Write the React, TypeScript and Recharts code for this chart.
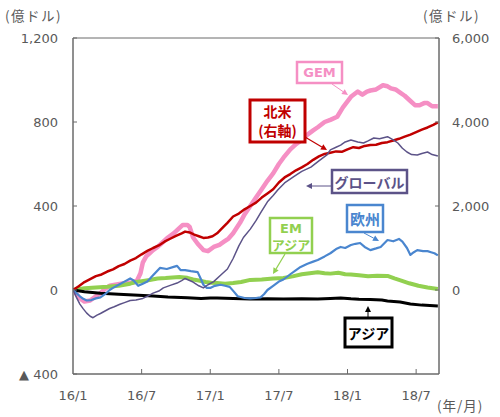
import React from 'react';
import { LineChart, Line, XAxis, YAxis, ReferenceArea } from 'recharts';

// months since 2016/1
const xTickMonths = [0, 6, 12, 18, 24, 30];
const xTickLabels = ['16/1', '16/7', '17/1', '17/7', '18/1', '18/7'];
const leftTicks = [-400, 0, 400, 800, 1200];
const rightTicks = [0, 2000, 4000, 6000];

// North America (right axis, 億ドル)
const northAmerica: number[][] = [
  [0, 0], [0.5, 90], [1, 190], [1.5, 260], [2, 330], [2.5, 370], [3, 440], [3.5, 490], [4, 570], [4.5, 620],
  [5, 700], [5.5, 760], [6, 850], [6.5, 930], [7, 1000], [7.5, 1060], [8, 1150], [8.5, 1220], [9, 1290],
  [9.5, 1350], [9.8, 1390], [10.2, 1370], [10.6, 1320], [11, 1280], [11.4, 1240], [11.8, 1250], [12.2, 1280],
  [12.6, 1350], [13, 1460], [13.5, 1600], [14, 1750], [14.5, 1820], [15, 1920], [15.5, 2000], [16, 2080],
  [16.5, 2200], [17, 2300], [17.5, 2400], [18, 2560], [18.5, 2680], [19, 2760], [19.5, 2850], [20, 2920],
  [20.5, 3000], [21, 3100], [21.5, 3180], [22, 3240], [22.5, 3270], [23, 3300], [23.5, 3290], [24, 3350],
  [24.5, 3400], [25, 3380], [25.5, 3430], [26, 3450], [26.5, 3460], [27, 3500], [27.5, 3520], [28, 3560],
  [28.5, 3600], [29, 3650], [29.5, 3700], [30, 3760], [30.5, 3820], [31, 3870], [31.5, 3930], [31.9, 3990],
];

const gem: number[][] = [
  [0, 0], [0.3, -20], [0.6, -40], [1, -55], [1.5, -50], [2, -30], [2.4, -15], [2.8, 5], [3.2, 20], [3.7, 25],
  [4.2, 30], [4.7, 35], [5.2, 35], [5.6, 45], [5.9, 80], [6.1, 130], [6.4, 160], [6.7, 175], [7, 190],
  [7.4, 205], [7.8, 225], [8.3, 250], [8.8, 270], [9.2, 290], [9.6, 310], [10, 310], [10.2, 300], [10.5, 250],
  [10.9, 220], [11.4, 190], [11.8, 185], [12.3, 205], [12.8, 215], [13.2, 230], [13.6, 245], [14, 270],
  [14.6, 320], [15, 360], [15.5, 400], [16, 440], [16.5, 480], [17, 520], [17.5, 555], [18, 600], [18.4, 630],
  [19, 670], [19.5, 695], [19.9, 710], [20.5, 740], [21, 760], [21.4, 775], [22, 800], [22.5, 810],
  [23.1, 825], [23.6, 870], [24.3, 920], [24.9, 945], [25.3, 930], [25.7, 945], [26, 950], [26.5, 955],
  [27.1, 975], [27.5, 970], [27.8, 960], [28.2, 955], [28.6, 940], [29, 925], [29.5, 900], [29.9, 880],
  [30.3, 880], [30.7, 890], [31, 890], [31.4, 875], [31.9, 875],
];

const globalFunds: number[][] = [
  [0, 0], [0.3, -35], [0.6, -67], [0.9, -90], [1.2, -110], [1.5, -125], [1.75, -132], [2.1, -120],
  [2.4, -112], [2.8, -100], [3.2, -88], [3.6, -80], [4.1, -68], [4.5, -60], [5, -50], [5.5, -48], [6.1, -40],
  [6.5, -30], [7, -15], [7.5, -5], [7.9, 10], [8.5, 22], [9.1, 33], [9.5, 45], [9.8, 55], [10.2, 45],
  [10.5, 38], [11, 20], [11.4, 10], [11.8, 25], [12.3, 40], [12.9, 70], [13.5, 100], [14, 150], [14.5, 210],
  [14.9, 250], [15.5, 290], [16, 330], [16.4, 367], [17, 420], [17.5, 450], [17.9, 476], [18.5, 510],
  [19.3, 540], [20, 565], [20.8, 585], [21.5, 615], [22.2, 643], [22.5, 667], [23, 680], [23.4, 690],
  [23.8, 705], [24.3, 714], [24.9, 705], [25.4, 700], [25.8, 710], [26.3, 724], [26.8, 720], [27.5, 730],
  [28, 715], [28.4, 700], [28.8, 675], [29.2, 657], [29.6, 645], [30.1, 643], [30.5, 650], [31, 657],
  [31.4, 645], [31.9, 638],
];

const europe: number[][] = [
  [0, 0], [0.3, -15], [0.6, -30], [0.9, -42], [1.2, -50], [1.6, -48], [2, -40], [2.4, -35], [2.8, -20],
  [3.2, 0], [3.5, 10], [4, 25], [4.5, 40], [5, 55], [5.3, 45], [5.7, 20], [6.1, 30], [6.5, 40], [7, 70],
  [7.6, 105], [8.2, 100], [8.8, 110], [9.1, 115], [9.4, 95], [9.8, 95], [10.3, 90], [10.9, 85], [11.2, 50],
  [11.4, 25], [11.7, 10], [12, 10], [12.4, 20], [12.9, 25], [13.3, 20], [13.7, 15], [14.1, -10], [14.4, -30],
  [15, -38], [15.5, -40], [16, -38], [16.4, -35], [16.7, -20], [17, 0], [17.5, 20], [18, 40], [18.4, 50],
  [19, 75], [19.5, 95], [19.9, 110], [20.5, 125], [21, 135], [21.4, 143], [22, 160], [22.5, 175], [23, 195],
  [23.4, 205], [23.8, 200], [24.3, 214], [24.7, 220], [25.1, 224], [25.5, 205], [26, 190], [26.5, 198],
  [26.9, 205], [27.5, 238], [28, 232], [28.5, 243], [28.8, 230], [29.2, 200], [29.5, 167], [29.8, 180],
  [30.1, 190], [30.6, 185], [31, 185], [31.3, 180], [31.6, 175], [31.9, 165],
];

const emAsia: number[][] = [
  [0, 0], [1, 8], [2, 12], [3, 15], [4, 20], [5, 30], [5.5, 38], [6, 42], [6.7, 48], [7.4, 55], [8.1, 57],
  [8.7, 60], [9.3, 62], [10, 58], [10.5, 50], [11, 45], [11.6, 38], [12.1, 35], [12.6, 33], [13.3, 30],
  [14, 33], [14.7, 38], [15.5, 48], [16.5, 50], [17.5, 55], [18.4, 57], [19.2, 65], [20, 75], [20.7, 80],
  [21.4, 84], [22, 80], [22.5, 78], [23.2, 82], [23.8, 75], [24.3, 74], [25, 70], [25.8, 65], [26.6, 68],
  [27.5, 67], [28.1, 55], [28.7, 45], [29.4, 32], [30.2, 20], [31, 12], [31.9, 5],
];

const asia: number[][] = [
  [0, 0], [1, -8], [2.4, -15], [4, -20], [5.3, -24], [7, -28], [8.3, -33], [10, -37], [11.2, -40], [12, -38],
  [12.6, -38], [14, -40], [15.5, -43], [17, -42], [18.4, -43], [20, -42], [21.4, -43], [22.5, -40],
  [23.4, -38], [24.3, -42], [25, -44], [26, -45], [27, -48], [27.5, -52], [28.6, -57], [29.5, -67],
  [30.5, -72], [31.2, -74], [31.9, -76],
];

const toRows = (arr: number[][]) => arr.map(([m, v]) => ({ m, v }));

const FONT = "'DejaVu Sans', 'Noto Sans CJK JP', sans-serif";
const JP = "'Noto Sans CJK JP', 'DejaVu Sans', sans-serif";
const TICK_COLOR = '#595959';
const AXIS_COLOR = '#6b6b6b';

const fmtNum = (v: number) => (v < 0 ? '▲ ' + Math.abs(v).toLocaleString('en-US') : v.toLocaleString('en-US'));

const LeftTick = (props: any) => {
  const { x, y, payload } = props;
  const ax = x + 15;
  return (
    <g>
      <line x1={ax} x2={ax + 4} y1={y} y2={y} stroke={AXIS_COLOR} />
      <text x={x} y={y} textAnchor="end" dominantBaseline="central" fontSize={13} fill={TICK_COLOR} fontFamily={FONT}>
        {fmtNum(payload.value)}
      </text>
    </g>
  );
};

const RightTick = (props: any) => {
  const { x, y, payload } = props;
  const ax = x - 13;
  return (
    <g>
      <line x1={ax} x2={ax - 4} y1={y} y2={y} stroke={AXIS_COLOR} />
      <text x={x} y={y} textAnchor="start" dominantBaseline="central" fontSize={13} fill={TICK_COLOR} fontFamily={FONT}>
        {fmtNum(payload.value)}
      </text>
    </g>
  );
};

const BottomTick = (props: any) => {
  const { x, y, payload, index } = props;
  const ay = y - 21;
  const label = xTickLabels[xTickMonths.indexOf(payload.value)] ?? '';
  return (
    <g>
      {index > 0 && <line x1={x} x2={x} y1={ay} y2={ay - 5} stroke={AXIS_COLOR} />}
      <text x={x} y={y} textAnchor="middle" dominantBaseline="central" fontSize={13} fill={TICK_COLOR} fontFamily={FONT}>
        {label}
      </text>
    </g>
  );
};

const Arrow = ({ x1, y1, x2, y2, color, w = 1 }: any) => {
  const ang = Math.atan2(y2 - y1, x2 - x1);
  const L = 6;
  const W = 3;
  const bx = x2 - L * Math.cos(ang);
  const by = y2 - L * Math.sin(ang);
  const px = -Math.sin(ang) * W;
  const py = Math.cos(ang) * W;
  return (
    <g>
      <line x1={x1} y1={y1} x2={bx} y2={by} stroke={color} strokeWidth={w} />
      <polygon points={`${x2},${y2} ${bx + px},${by + py} ${bx - px},${by - py}`} fill={color} />
    </g>
  );
};

const Box = ({ x, y, w, h, color, sw = 2.5 }: any) => (
  <rect x={x} y={y} width={w} height={h} fill="#fff" stroke={color} strokeWidth={sw} />
);

const C_NA = '#c00000';
const C_GEM = '#f58fc4';
const C_GLOBAL = '#5c5388';
const C_EU = '#4a86cf';
const C_EM = '#92d050';
const C_ASIA = '#000000';

export default function App() {
  return (
    <div style={{ position: 'absolute', left: 0, top: 0, width: 500, height: 417, background: '#fff' }}>
      <LineChart width={500} height={417} margin={{ top: 38, right: 0, bottom: 0, left: 0 }}>
        <XAxis
          dataKey="m"
          type="number"
          domain={[0, 32]}
          ticks={xTickMonths}
          height={43}
          tickSize={0}
          tickMargin={21}
          tick={<BottomTick />}
          axisLine={{ stroke: AXIS_COLOR }}
          allowDataOverflow
        />
        <YAxis
          yAxisId="left"
          orientation="left"
          width={73}
          domain={[-400, 1200]}
          ticks={leftTicks}
          tickSize={0}
          tickMargin={15}
          tick={<LeftTick />}
          axisLine={{ stroke: AXIS_COLOR }}
          allowDataOverflow
        />
        <YAxis
          yAxisId="right"
          orientation="right"
          width={61}
          domain={[-2000, 6000]}
          ticks={rightTicks}
          tickSize={0}
          tickMargin={13}
          tick={<RightTick />}
          axisLine={{ stroke: AXIS_COLOR }}
          allowDataOverflow
        />
        <ReferenceArea yAxisId="left" x1={0} x2={32} y1={-400} y2={1200} fill="none" stroke={AXIS_COLOR} strokeWidth={1} />
        <Line yAxisId="left" data={toRows(gem)} dataKey="v" stroke={C_GEM} strokeWidth={4.5} dot={false} isAnimationActive={false} strokeLinejoin="round" />
        <Line yAxisId="left" data={toRows(emAsia)} dataKey="v" stroke={C_EM} strokeWidth={4} dot={false} isAnimationActive={false} strokeLinejoin="round" />
        <Line yAxisId="left" data={toRows(asia)} dataKey="v" stroke={C_ASIA} strokeWidth={3} dot={false} isAnimationActive={false} strokeLinejoin="round" />
        <Line yAxisId="right" data={toRows(northAmerica)} dataKey="v" stroke={C_NA} strokeWidth={2.5} dot={false} isAnimationActive={false} strokeLinejoin="round" />
        <Line yAxisId="left" data={toRows(europe)} dataKey="v" stroke={C_EU} strokeWidth={2.2} dot={false} isAnimationActive={false} strokeLinejoin="round" />
        <Line yAxisId="left" data={toRows(globalFunds)} dataKey="v" stroke={C_GLOBAL} strokeWidth={1.5} dot={false} isAnimationActive={false} strokeLinejoin="round" />
      </LineChart>
      <svg width={500} height={417} style={{ position: 'absolute', left: 0, top: 0, pointerEvents: 'none' }}>
        {/* axis unit labels */}
        <text x={5} y={15} dominantBaseline="central" fontSize={13.5} letterSpacing={1.5} fill={TICK_COLOR} fontFamily={JP}>(億ドル)</text>
        <text x={423} y={15} dominantBaseline="central" fontSize={13.5} letterSpacing={1.5} fill={TICK_COLOR} fontFamily={JP}>(億ドル)</text>
        <text x={437} y={405} dominantBaseline="central" fontSize={13.5} letterSpacing={1} fill={TICK_COLOR} fontFamily={JP}>(年/月)</text>

        {/* GEM */}
        <Arrow x1={332} y1={84} x2={348} y2={95} color={C_GEM} />
        <Box x={297} y={62} w={45} h={21} color={C_GEM} />
        <text x={319.5} y={72.5} textAnchor="middle" dominantBaseline="central" fontSize={13} fontWeight="bold" fill={C_GEM} fontFamily={FONT}>GEM</text>

        {/* North America */}
        <Arrow x1={305} y1={137} x2={327} y2={150} color={C_NA} w={1.2} />
        <Box x={250} y={100} w={55} h={42} color={C_NA} sw={3} />
        <text x={277.5} y={111} textAnchor="middle" dominantBaseline="central" fontSize={14} fontWeight="bold" fill={C_NA} fontFamily={JP}>北米</text>
        <text x={277.5} y={130} textAnchor="middle" dominantBaseline="central" fontSize={14} fontWeight="bold" fill={C_NA} fontFamily={JP}>(右軸)</text>

        {/* Global */}
        <Arrow x1={332} y1={186} x2={306} y2={186} color={C_GLOBAL} />
        <Box x={332} y={170} w={75} h={23} color={C_GLOBAL} />
        <text x={369.5} y={181.5} textAnchor="middle" dominantBaseline="central" fontSize={14} fontWeight="bold" fill={C_GLOBAL} fontFamily={JP}>グローバル</text>

        {/* Europe */}
        <Arrow x1={364} y1={233} x2={379} y2={241} color={C_EU} />
        <Box x={347} y={205} w={36} h={27} color={C_EU} />
        <text x={365} y={218.5} textAnchor="middle" dominantBaseline="central" fontSize={15} fontWeight="bold" fill={C_EU} fontFamily={JP}>欧州</text>

        {/* EM Asia */}
        <Arrow x1={285} y1={254} x2={273} y2={274} color={C_EM} w={1.2} />
        <Box x={270} y={218} w={42} h={35} color={C_EM} />
        <text x={291} y={228} textAnchor="middle" dominantBaseline="central" fontSize={13} fontWeight="bold" fill={C_EM} fontFamily={FONT}>EM</text>
        <text x={291} y={244} textAnchor="middle" dominantBaseline="central" fontSize={13} fontWeight="bold" fill={C_EM} fontFamily={JP}>アジア</text>

        {/* Asia */}
        <Arrow x1={368} y1={318} x2={368} y2={306} color={C_ASIA} />
        <Box x={345} y={318} w={47} h={29} color={C_ASIA} sw={3} />
        <text x={368.5} y={332.5} textAnchor="middle" dominantBaseline="central" fontSize={14} fontWeight="bold" fill={C_ASIA} fontFamily={JP}>アジア</text>
      </svg>
    </div>
  );
}
